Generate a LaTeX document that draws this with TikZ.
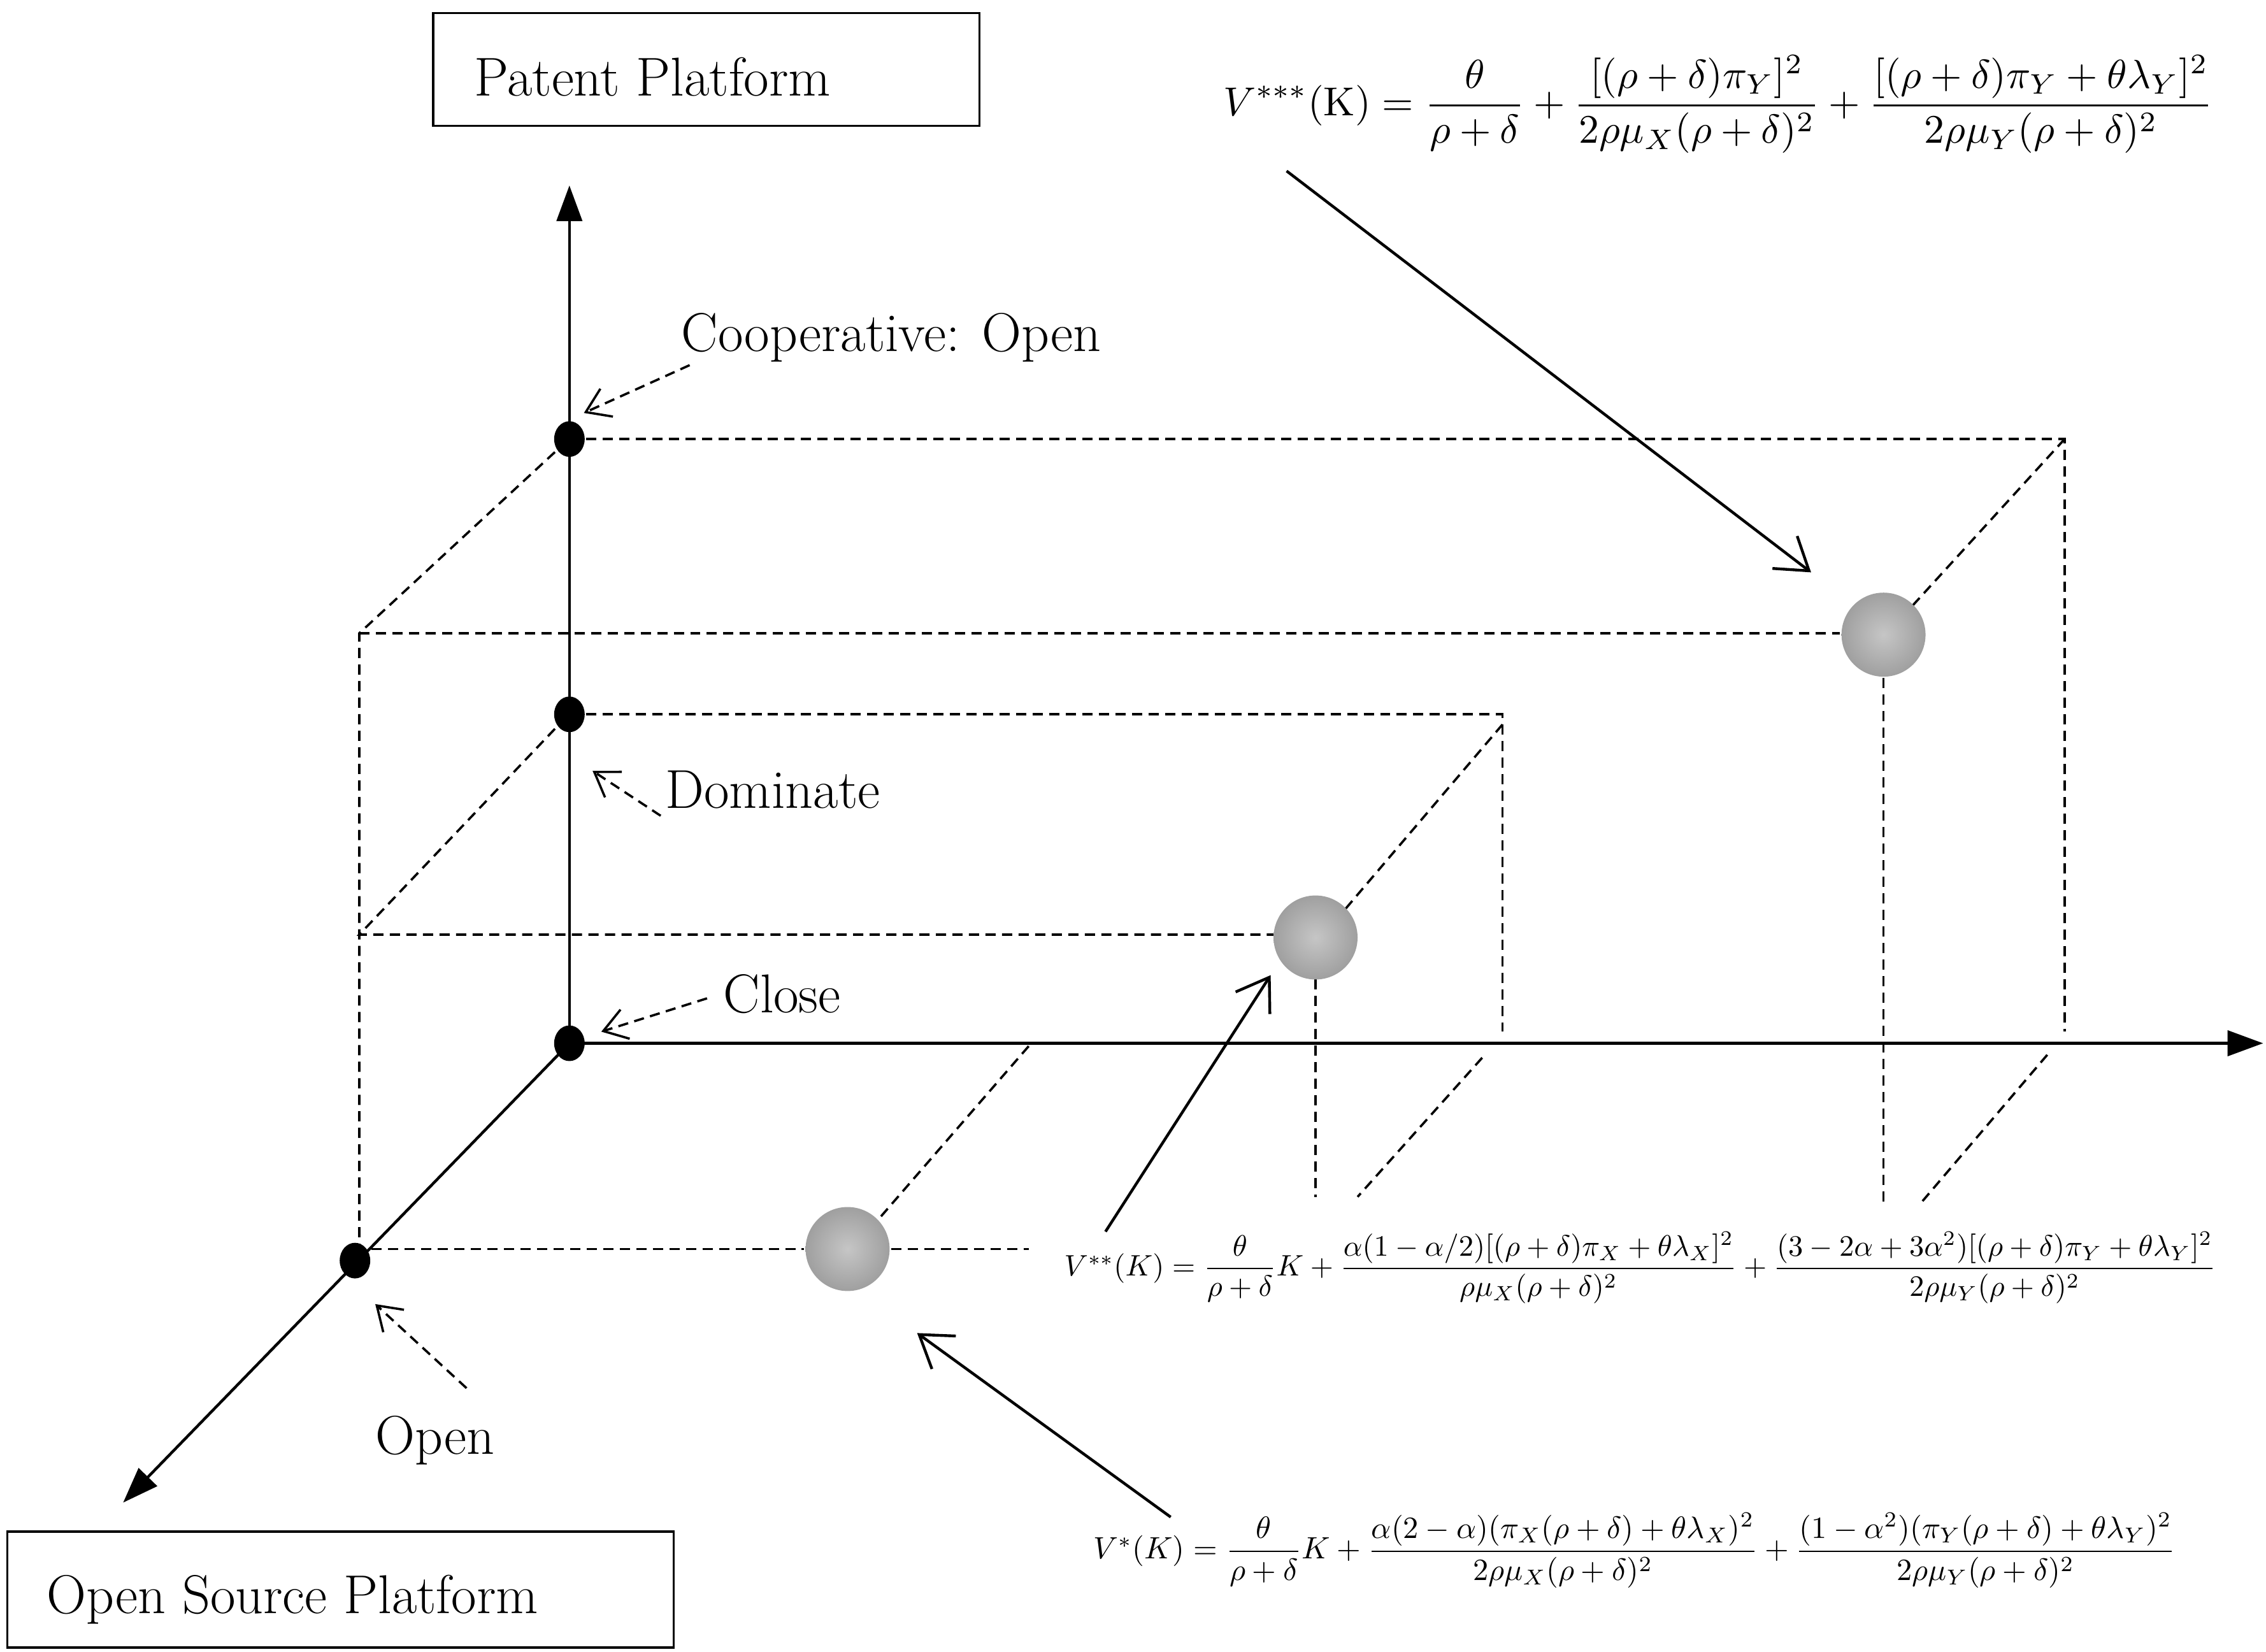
\documentclass[tikz,border=0pt]{standalone}
\usepackage{amsmath,graphicx}
\usetikzlibrary{arrows.meta,shapes.geometric}
\begin{document}
\begin{tikzpicture}[x=0.02cm,y=-0.02cm,
  ax/.style={line width=1.1pt,-{Triangle[length=14pt,width=10pt]}},
  dsh/.style={line width=0.9pt,dash pattern=on 4pt off 2.5pt},
  ann/.style={line width=0.9pt,dash pattern=on 4pt off 2.5pt,-{Straight Barb[length=9pt,width=12pt]}},
  sol/.style={line width=1.1pt,-{Straight Barb[length=12pt,width=16pt]}},
  dot/.style={ellipse,fill=black,minimum width=12pt,minimum height=14pt,inner sep=0pt},
  ball/.style={circle,inner color=gray!45,outer color=gray!75,minimum size=33pt,inner sep=0pt},
  lab/.style={font=\fontsize{21.5}{26}\selectfont,anchor=west,inner sep=0pt}]
\useasboundingbox (0,0) rectangle (1564,1140);
% boxes
\draw[line width=0.8pt] (299,9) rectangle (676,87);
\node[lab] (pp) at (327,53) {Patent Platform};
\draw[line width=0.8pt] (5,1057) rectangle (465,1137);
\node[lab] (osp) at (32,1104) {Open Source Platform};
% origin
\coordinate (O) at (393,720);
\coordinate (Ytip) at (393,128);
\coordinate (Xtip) at (1562,720);
\coordinate (Ztip) at (85,1037);
% dashed structure
\coordinate (a1) at (1425,303);
\draw[dsh] (393,303) -- (a1) -- (1425,712);
\draw[dsh] (a1) -- (1320,418);
\draw[dsh] (383,312) -- (248,437) -- (248,870);
\draw[dsh] (248,437) -- (1270,437);
\draw[dsh] (1300,468) -- (1300,830);
\draw[dsh] (1413,728) -- (1326,830);
\draw[dsh] (393,493) -- (1037,493) -- (1037,712);
\draw[dsh] (1037,500) -- (928,628);
\draw[dsh] (383,503) -- (248,645) -- (879,645);
\draw[dsh] (908,676) -- (908,826);
\draw[dsh] (1023,730) -- (937,826);
\draw[dsh] (245,862) -- (555,862);
\draw[dsh] (615,862) -- (710,862);
\draw[dsh] (710,722) -- (605,843);
% axes
\draw[ax] (O) -- (Ytip);
\draw[ax] (O) -- (Xtip);
\draw[ax] (O) -- (Ztip);
% dots
\node[dot] (d1) at (393,303) {};
\node[dot] (d2) at (393,493) {};
\node[dot] (d3) at (393,720) {};
\node[dot] (d4) at (245,870) {};
% balls
\node[ball] (b1) at (585,862) {};
\node[ball] (b2) at (908,647) {};
\node[ball] (b3) at (1300,438) {};
% labels
\node[lab] (coop) at (470,233) {Cooperative: Open};
\node[lab] (dom) at (459,545) {Dominate};
\node[lab] (clo) at (499,686) {Close};
\node[lab] (opn) at (259,994) {Open};
\coordinate (c1) at (476,252); \coordinate (c2) at (456,563);
\coordinate (c3) at (488,689); \coordinate (c4) at (322,958);
\draw[ann] (c1) -- (403,285);
\draw[ann] (c2) -- (409,532);
\draw[ann] (c3) -- (415,712);
\draw[ann] (c4) -- (259,900);
% formulas
\node[inner sep=0pt] (f3) at (1186,72) {\resizebox{13.66cm}{!}{$\displaystyle V^{***}(\mathrm{K})=\frac{\theta}{\rho+\delta}+\frac{[(\rho+\delta)\pi_Y]^2}{2\rho\mu_X(\rho+\delta)^2}+\frac{[(\rho+\delta)\pi_Y+\theta\lambda_Y]^2}{2\rho\mu_Y(\rho+\delta)^2}$}};
\node[inner sep=0pt] (f2) at (1132,875) {\resizebox{15.9cm}{!}{$V^{**}(K)=\dfrac{\theta}{\rho+\delta}K+\dfrac{\alpha(1-\alpha/2)[(\rho+\delta)\pi_X+\theta\lambda_X]^2}{\rho\mu_X(\rho+\delta)^2}+\dfrac{(3-2\alpha+3\alpha^2)[(\rho+\delta)\pi_Y+\theta\lambda_Y]^2}{2\rho\mu_Y(\rho+\delta)^2}$}};
\node[inner sep=0pt] (f1) at (1128,1070) {\resizebox{14.94cm}{!}{$V^{*}(K)=\dfrac{\theta}{\rho+\delta}K+\dfrac{\alpha(2-\alpha)(\pi_X(\rho+\delta)+\theta\lambda_X)^2}{2\rho\mu_X(\rho+\delta)^2}+\dfrac{(1-\alpha^2)(\pi_Y(\rho+\delta)+\theta\lambda_Y)^2}{2\rho\mu_Y(\rho+\delta)^2}$}};
% solid arrows
\coordinate (s3) at (888,118); \coordinate (s2) at (763,850); \coordinate (s1) at (808,1047);
\draw[sol] (s3) -- (1250,395);
\draw[sol] (s2) -- (877,673);
\draw[sol] (s1) -- (633,920);
\end{tikzpicture}
\end{document}
